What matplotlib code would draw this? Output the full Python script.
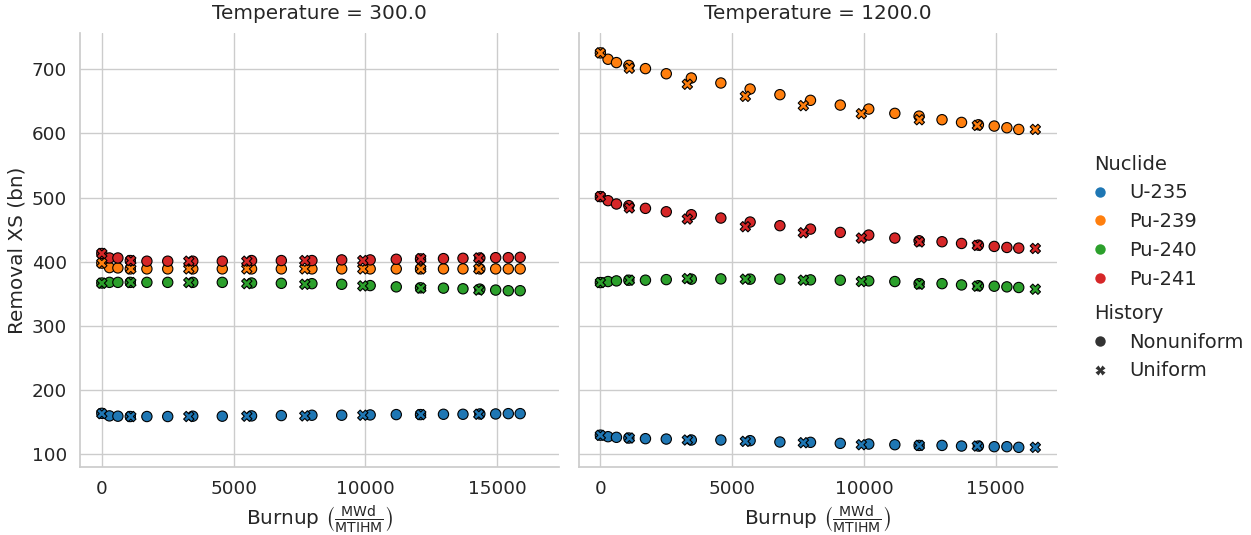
import numpy as np
import pandas as pd
import seaborn as sns
import matplotlib
matplotlib.use("Agg")
from matplotlib import pyplot as plt
from matplotlib.lines import Line2D

nuclides = ["U-235", "Pu-239", "Pu-240", "Pu-241"]
histories = ["Nonuniform", "Uniform"]

# burnup steps (MWd/MTIHM)
nonuni_burnup = [0, 290, 610, 1080, 1710, 2500, 3450, 4570, 5680, 6810, 7970,
                 9100, 10180, 11170, 12090, 12960, 13700, 14340, 14940, 15420, 15870]
uni_burnup_300 = [0, 1100, 3300, 5500, 7700, 9900, 12100, 14300]
uni_burnup_1200 = [0, 1100, 3300, 5500, 7700, 9900, 12100, 14300, 16500]

# T = 300, nonuniform history
nonuni_300 = {
    "U-235": [164, 160, 159.5, 159, 159, 159, 159.5, 159.5, 160, 160.5, 161, 161,
              161.5, 162, 162, 162.5, 162.5, 163, 163, 163.5, 163.5],
    "Pu-239": [398, 391, 390.5, 389, 389, 389, 389, 389, 389, 389, 389, 389,
               389, 389, 389, 389, 389, 389, 389, 389, 389],
    "Pu-240": [367, 368, 368, 368, 368, 368, 368, 368, 367, 366.5, 366, 365,
               363, 361, 359.5, 359, 358, 357.5, 356, 355, 355],
    "Pu-241": [413, 406, 406, 402, 401, 401, 401, 401, 402, 402, 402, 403,
               403, 404, 404.5, 405, 405.5, 406, 406.5, 406.5, 407],
}
# T = 300, uniform history
uni_300 = {
    "U-235": [163.5, 159, 159, 159.5, 160, 161, 162, 162.5],
    "Pu-239": [398, 389, 389, 389, 389, 389, 389, 389],
    "Pu-240": [366.7, 367.7, 367.7, 366, 365, 362.5, 359, 356],
    "Pu-241": [413, 402, 401, 401, 402, 402, 405, 406],
}
# T = 1200, nonuniform history
nonuni_1200 = {
    "U-235": [130, 127.6, 126.6, 125.5, 124.5, 123.9, 122.4, 122.4, 121.4, 119.3, 118.8,
              117.2, 116.1, 115.1, 114, 114, 113, 113, 112, 112, 111],
    "Pu-239": [725.5, 715.6, 710.4, 706, 701, 693, 686.4, 678.6, 669.2, 660.4, 651.6,
               644.2, 638, 631.3, 627, 621.4, 617.2, 613.5, 611.5, 608.9, 606.3],
    "Pu-240": [367.7, 369.3, 370.3, 371.4, 371.4, 372.3, 373, 373.4, 373, 373, 371.9,
               371.4, 370.3, 369.3, 366, 366, 364, 362.8, 362, 361, 360],
    "Pu-241": [501.6, 495.3, 490.1, 487.5, 483.3, 478, 473.4, 468.2, 462, 456.3, 451,
               445.8, 441.7, 437, 432.8, 431.3, 428.6, 426, 424, 422.4, 421.4],
}
# T = 1200, uniform history
uni_1200 = {
    "U-235": [129.7, 125.5, 122.4, 120.3, 118.2, 115.1, 114, 113, 111],
    "Pu-239": [725.5, 701.6, 676.6, 657.8, 643.3, 630.8, 621.4, 612.5, 606.3],
    "Pu-240": [367.7, 371.4, 373.9, 373, 371.4, 369.3, 365, 362, 357.3],
    "Pu-241": [501.6, 484, 466.7, 454.7, 445.3, 437, 431, 425.5, 420.8],
}


def to_rows(temp, history, burnup, values):
    rows = []
    for nuc in nuclides:
        for b, v in zip(burnup, values[nuc]):
            rows.append({"Temperature": temp, "History": history, "Nuclide": nuc,
                         "Burnup": b, "XS": v})
    return rows


rows = []
rows += to_rows(300.0, "Nonuniform", nonuni_burnup, nonuni_300)
rows += to_rows(300.0, "Uniform", uni_burnup_300, uni_300)
rows += to_rows(1200.0, "Nonuniform", nonuni_burnup, nonuni_1200)
rows += to_rows(1200.0, "Uniform", uni_burnup_1200, uni_1200)
df = pd.DataFrame(rows)

sns.set_theme(style="whitegrid", context="notebook", font_scale=1.2, palette="tab10")
plt.rcParams["font.family"] = ["DejaVu Sans"]
plt.rcParams["mathtext.fontset"] = "dejavusans"

colors = sns.color_palette("tab10", 4)
markers = {"Nonuniform": "o", "Uniform": "X"}

g = sns.relplot(data=df, x="Burnup", y="XS", hue="Nuclide", style="History",
                col="Temperature", hue_order=nuclides, palette=colors,
                style_order=histories, markers=markers,
                edgecolor="black", linewidth=0.8, s=55, legend=False)

g.set_axis_labels(r"Burnup $\left(\frac{\mathrm{MWd}}{\mathrm{MTIHM}}\right)$",
                  "Removal XS (bn)")
for ax, temp in zip(g.axes.flat, g.col_names):
    ax.set_title(f"Temperature = {temp}", pad=10)
g.axes[0, 0].set_yticks([100, 200, 300, 400, 500, 600, 700])
g.axes[0, 0].set_xticks([0, 5000, 10000, 15000])

fig = g.figure
fig.set_size_inches(12.51, 5.35)
fig.subplots_adjust(left=0.064, right=0.845, top=0.938, bottom=0.127, wspace=0.042)

# legends: one block per semantic, titles flush left
hue_handles = [Line2D([], [], ls="", marker="o", ms=7.5, color=c, mec="none")
               for c in colors]
style_handles = [Line2D([], [], ls="", marker=markers[h], ms=7.5 if h == "Nonuniform" else 6.5,
                        color=".2", mec="none") for h in histories]
leg_kw = dict(frameon=False, fontsize=14, title_fontsize=14, borderpad=0,
              handlelength=0.6, handletextpad=1.2, labelspacing=0.5,
              alignment="left", loc="upper left")
fig.legend(hue_handles, nuclides, title="Nuclide",
           bbox_to_anchor=(0.867, 0.729), **leg_kw)
fig.legend(style_handles, histories, title="History",
           bbox_to_anchor=(0.867, 0.450), **leg_kw)

fig.savefig("out.png", dpi=100)
